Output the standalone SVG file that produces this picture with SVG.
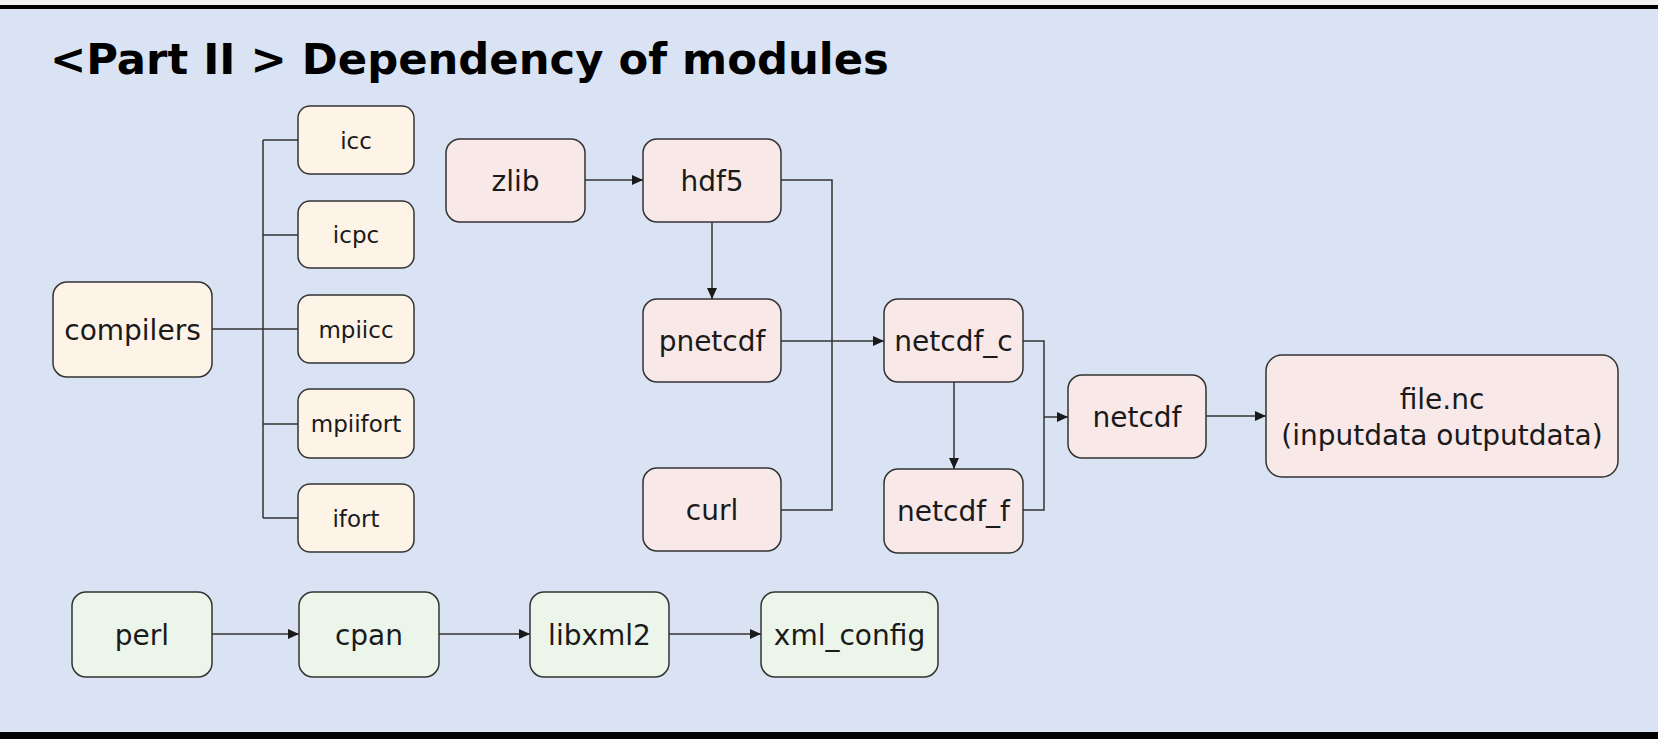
<svg xmlns="http://www.w3.org/2000/svg" width="1658" height="739" viewBox="0 0 1658 739">
<defs>
<style>
.bx{stroke:#333;stroke-width:1.5}
.c{fill:#fdf3e7}
.r{fill:#f8e8e8}
.g{fill:#ebf5ea}
.t{font-family:"DejaVu Sans",Verdana,sans-serif;fill:#1a1a1a;text-anchor:middle;dominant-baseline:central}
.big{font-size:28px}
.sm{font-size:23px}
.ln{fill:none;stroke:#333;stroke-width:1.5}
</style>
<marker id="ah" markerUnits="userSpaceOnUse" markerWidth="12" markerHeight="10" refX="11" refY="5" orient="auto">
<path d="M0,0 L11,5 L0,10 z" fill="#1a1a1a"/>
</marker>
</defs>
<rect x="0" y="0" width="1658" height="739" fill="#dae3f3"/>
<rect x="0" y="0" width="1658" height="5" fill="#f2f2f2"/>
<rect x="0" y="5" width="1658" height="4" fill="#000"/>
<rect x="0" y="732" width="1658" height="7" fill="#000"/>
<text x="50" y="74" font-family="'DejaVu Sans',Verdana,sans-serif" font-weight="bold" font-size="43.3" fill="#000">&lt;Part II &gt; Dependency of modules</text>

<g id="connectors">
<path class="ln" d="M212,329 H263 M263,140 V518 M263,140 H298 M263,235 H298 M263,329 H298 M263,424 H298 M263,518 H298"/>
<path class="ln" d="M585,180 H643" marker-end="url(#ah)"/>
<path class="ln" d="M712,222 V299" marker-end="url(#ah)"/>
<path class="ln" d="M781,180 H832 V510 H781"/>
<path class="ln" d="M781,341 H884" marker-end="url(#ah)"/>
<path class="ln" d="M954,382 V469" marker-end="url(#ah)"/>
<path class="ln" d="M1023,341 H1044 V510 H1023"/>
<path class="ln" d="M1044,417 H1068" marker-end="url(#ah)"/>
<path class="ln" d="M1206,416 H1266" marker-end="url(#ah)"/>
<path class="ln" d="M212,634 H299" marker-end="url(#ah)"/>
<path class="ln" d="M439,634 H530" marker-end="url(#ah)"/>
<path class="ln" d="M669,634 H761" marker-end="url(#ah)"/>
</g>

<g id="compilers"><rect class="bx c" x="53" y="282" width="159" height="95" rx="14"/><text class="t big" x="132.5" y="330">compilers</text></g>
<g id="icc"><rect class="bx c" x="298" y="106" width="116" height="68" rx="12"/><text class="t sm" x="356" y="141">icc</text></g>
<g id="icpc"><rect class="bx c" x="298" y="201" width="116" height="67" rx="12"/><text class="t sm" x="356" y="235">icpc</text></g>
<g id="mpiicc"><rect class="bx c" x="298" y="295" width="116" height="68" rx="12"/><text class="t sm" x="356" y="330">mpiicc</text></g>
<g id="mpiifort"><rect class="bx c" x="298" y="389" width="116" height="69" rx="12"/><text class="t sm" x="356" y="424">mpiifort</text></g>
<g id="ifort"><rect class="bx c" x="298" y="484" width="116" height="68" rx="12"/><text class="t sm" x="356" y="519">ifort</text></g>

<g id="zlib"><rect class="bx r" x="446" y="139" width="139" height="83" rx="14"/><text class="t big" x="515.5" y="181">zlib</text></g>
<g id="hdf5"><rect class="bx r" x="643" y="139" width="138" height="83" rx="14"/><text class="t big" x="712" y="181">hdf5</text></g>
<g id="pnetcdf"><rect class="bx r" x="643" y="299" width="138" height="83" rx="14"/><text class="t big" x="712" y="341">pnetcdf</text></g>
<g id="curl"><rect class="bx r" x="643" y="468" width="138" height="83" rx="14"/><text class="t big" x="712" y="510">curl</text></g>
<g id="netcdf_c"><rect class="bx r" x="884" y="299" width="139" height="83" rx="14"/><text class="t big" x="953.5" y="341">netcdf_c</text></g>
<g id="netcdf_f"><rect class="bx r" x="884" y="469" width="139" height="84" rx="14"/><text class="t big" x="953.5" y="511">netcdf_f</text></g>
<g id="netcdf"><rect class="bx r" x="1068" y="375" width="138" height="83" rx="14"/><text class="t big" x="1137" y="417">netcdf</text></g>
<g id="file_nc"><rect class="bx r" x="1266" y="355" width="352" height="122" rx="16"/><text class="t big" x="1442" y="399">file.nc</text><text class="t big" x="1442" y="435">(inputdata outputdata)</text></g>

<g id="perl"><rect class="bx g" x="72" y="592" width="140" height="85" rx="14"/><text class="t big" x="142" y="635">perl</text></g>
<g id="cpan"><rect class="bx g" x="299" y="592" width="140" height="85" rx="14"/><text class="t big" x="369" y="635">cpan</text></g>
<g id="libxml2"><rect class="bx g" x="530" y="592" width="139" height="85" rx="14"/><text class="t big" x="599.5" y="635">libxml2</text></g>
<g id="xml_config"><rect class="bx g" x="761" y="592" width="177" height="85" rx="14"/><text class="t big" x="849.5" y="635">xml_config</text></g>
</svg>
